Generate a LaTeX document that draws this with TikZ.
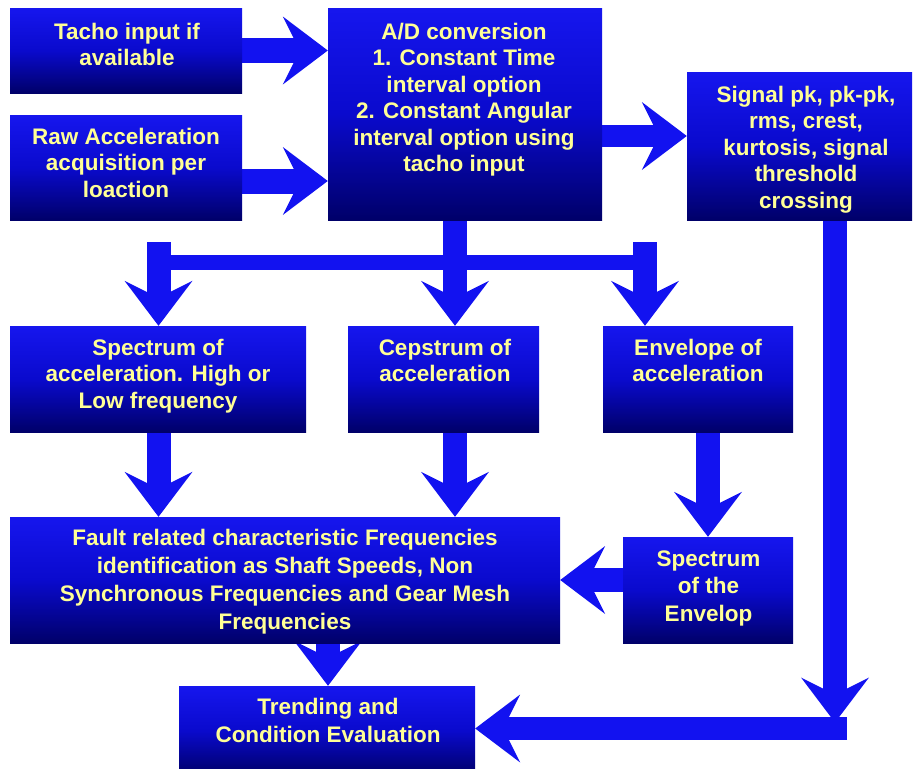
\documentclass[tikz,border=0pt]{standalone}
\usepackage{fontspec}
\setmainfont{Liberation Sans}
\usetikzlibrary{arrows.meta,backgrounds,calc}
\definecolor{ablue}{RGB}{18,18,240}
\definecolor{btop}{RGB}{22,22,238}
\definecolor{bmid}{RGB}{10,10,205}
\definecolor{bbot}{RGB}{0,0,105}
\definecolor{tyellow}{RGB}{255,255,150}
\begin{document}
\begin{tikzpicture}[x=1pt,y=-1pt,
  box/.style={rectangle, inner sep=0pt, draw=none, top color=btop, bottom color=bbot, middle color=bmid},
  txt/.style={anchor=north, inner sep=0pt, align=center, text=tyellow, font=\fontsize{22.5}{26.5}\selectfont\bfseries},
  fat/.style={draw=ablue, line width=24pt, -{Stealth[length=45pt,width=68pt,inset=17pt,line width=0pt]}},
  barline/.style={draw=ablue, line width=15pt}]
\useasboundingbox (0,0) rectangle (914,769);

% boxes
\node[box, minimum width=232pt, minimum height=85pt]  (tacho) at (126,50.5) {};
\node[box, minimum width=232pt, minimum height=105pt] (raw)   at (126,167.5) {};
\node[box, minimum width=274pt, minimum height=212pt] (ad)    at (465,114) {};
\node[box, minimum width=225pt, minimum height=148pt] (sig)   at (799.5,146) {};
\node[box, minimum width=296pt, minimum height=106pt] (spec)  at (158,379) {};
\node[box, minimum width=191pt, minimum height=106pt] (cep)   at (443.5,379) {};
\node[box, minimum width=190pt, minimum height=106pt] (env)   at (698,379) {};
\node[box, minimum width=550pt, minimum height=126pt] (fault) at (285,580) {};
\node[box, minimum width=170pt, minimum height=106pt] (senv)  at (708,590) {};
\node[box, minimum width=296pt, minimum height=89pt]  (trend) at (327,730.5) {};

% texts
\node[txt] (tachoT) at (127,22.5) {Tacho input if\\available};
\node[txt] (rawT) at (126,127.5) {Raw Acceleration\\acquisition per\\loaction};
\node[txt] (adT) at (464,22.5) {A/D conversion\\1. Constant Time\\interval option\\2. Constant Angular\\interval option using\\tacho input};
\node[txt] (sigT) at (806,85.5) {Signal pk, pk-pk,\\rms, crest,\\kurtosis, signal\\threshold\\crossing};
\node[txt] (specT) at (158,338.5) {Spectrum of\\acceleration. High or\\Low frequency};
\node[txt] (cepT) at (445,338.5) {Cepstrum of\\acceleration};
\node[txt] (envT) at (698,338.5) {Envelope of\\acceleration};
\node[txt, font=\fontsize{22.5}{28}\selectfont\bfseries] (faultT) at (285,528.5) {Fault related characteristic Frequencies\\identification as Shaft Speeds, Non\\Synchronous Frequencies and Gear Mesh\\Frequencies};
\node[txt, font=\fontsize{22.5}{27.5}\selectfont\bfseries] (senvT) at (708.5,550.5) {Spectrum\\of the\\Envelop};
\node[txt, font=\fontsize{22.5}{28}\selectfont\bfseries] (trendT) at (328,697.5) {Trending and\\Condition Evaluation};

% helper coordinates
\coordinate (rawout) at ($(raw.east)+(0,13.5)$);
\coordinate (adout) at ($(ad.east)+(0,22)$);
\coordinate (hub) at (455,262.5);
\coordinate (hubL) at (158.5,262.5);
\coordinate (hubR) at (645,262.5);
\coordinate (topL) at (158.5,242);
\coordinate (topR) at (645,242);
\coordinate (sw) at ($(senv.west)+(0,-10)$);
\coordinate (corner) at (835,728.5);

\begin{pgfonlayer}{background}
\draw[fat, line width=25pt] (tacho.east) -- (tacho.east -| ad.west);
\draw[fat, line width=25pt] (rawout) -- (rawout -| ad.west);
\draw[fat, line width=22pt] (adout) -- (adout -| sig.west);
\draw[fat] (ad.south -| hub) -- (cep.north -| hub);
\draw[barline] (hubL) -- (hubR);
\draw[fat] (topL) -- (topL |- spec.north);
\draw[fat] (topR) -- (topR |- env.north);
\draw[fat] (spec.south -| topL) -- (fault.north -| topL);
\draw[fat] (cep.south -| hub) -- (fault.north -| hub);
\draw[fat] (env.south -| senv.north) -- (senv.north);
\draw[fat] (sw) -- (sw -| fault.east);
\draw[fat] (fault.center -| 328,0) -- (trend.north -| 328,0);
\draw[fat, line width=23pt] ($(corner)+(12,0)$) -- (corner -| trend.east);
\draw[fat] (sig.south -| corner) -- ($(corner)+(0,-6)$);
\end{pgfonlayer}
\end{tikzpicture}
\end{document}
